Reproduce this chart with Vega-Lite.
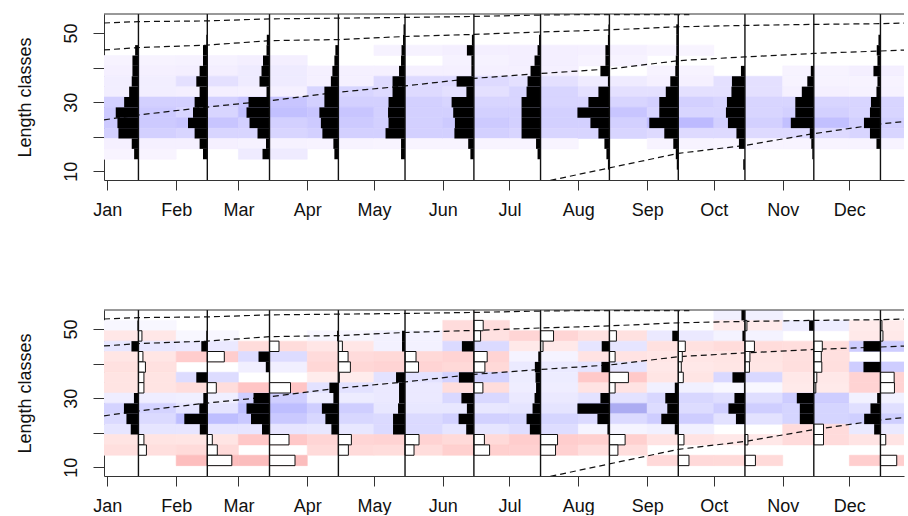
{
  "$schema": "https://vega.github.io/schema/vega-lite/v6.json",
  "padding": {"left": 16, "top": 13, "right": 0, "bottom": 0},
  "spacing": 130,
  "bounds": "flush",
  "resolve": {"scale": {"color": "independent", "stroke": "independent"}},
  "config": {
    "view": {"stroke": null},
    "font": "Liberation Sans",
    "axis": {"grid": false, "domainColor": "#333333", "tickColor": "#333333", "domainWidth": 1, "tickWidth": 1, "labelColor": "#111111", "labelFont": "Liberation Sans", "titleFont": "Liberation Sans", "titleFontWeight": "normal", "titleColor": "#111111"},
    "axisX": {"tickSize": 10, "labelFontSize": 18, "labelPadding": 25, "labelBaseline": "alphabetic", "labelAngle": 0},
    "axisY": {"tickSize": 11, "labelFontSize": 18, "labelAngle": 270, "labelAlign": "center", "labelBaseline": "alphabetic", "labelPadding": 17, "titleFontSize": 18, "titleAngle": 270, "titleBaseline": "alphabetic", "titleAlign": "center", "titleX": -74, "titleY": 83}
  },
  "datasets": {
    "months": [
      {"m":1,"start":-1.5,"end":31,"line":14},{"m":2,"start":31,"end":59,"line":45},{"m":3,"start":59,"end":90,"line":73},
      {"m":4,"start":90,"end":120,"line":104},{"m":5,"start":120,"end":151,"line":134},{"m":6,"start":151,"end":181,"line":165},
      {"m":7,"start":181,"end":212,"line":195},{"m":8,"start":212,"end":243,"line":226},{"m":9,"start":243,"end":273,"line":257},
      {"m":10,"start":273,"end":304,"line":287},{"m":11,"start":304,"end":334,"line":318},{"m":12,"start":334,"end":365,"line":348}
    ],
    "topHeat": [
      {"m":1,"L":42,"v":0.03},{"m":1,"L":39,"v":0.05},{"m":1,"L":36,"v":0.07},{"m":1,"L":33,"v":0.07},{"m":1,"L":30,"v":0.35},{"m":1,"L":27,"v":0.4},{"m":1,"L":24,"v":0.4},{"m":1,"L":21,"v":0.35},{"m":1,"L":18,"v":0.05},{"m":1,"L":15,"v":0.02},
      {"m":2,"L":42,"v":0.04},{"m":2,"L":39,"v":0.06},{"m":2,"L":36,"v":0.2},{"m":2,"L":33,"v":0.06},{"m":2,"L":30,"v":0.35},{"m":2,"L":27,"v":0.3},{"m":2,"L":24,"v":0.45},{"m":2,"L":21,"v":0.3},{"m":2,"L":18,"v":0.05},
      {"m":3,"L":42,"v":0.06},{"m":3,"L":39,"v":0.1},{"m":3,"L":36,"v":0.1},{"m":3,"L":33,"v":0.05},{"m":3,"L":30,"v":0.45},{"m":3,"L":27,"v":0.5},{"m":3,"L":24,"v":0.35},{"m":3,"L":21,"v":0.3},{"m":3,"L":18,"v":0.04},{"m":3,"L":15,"v":0.1},
      {"m":4,"L":39,"v":0.05},{"m":4,"L":36,"v":0.05},{"m":4,"L":33,"v":0.3},{"m":4,"L":30,"v":0.35},{"m":4,"L":27,"v":0.45},{"m":4,"L":24,"v":0.4},{"m":4,"L":21,"v":0.35},{"m":4,"L":18,"v":0.03},
      {"m":5,"L":45,"v":0.04},{"m":5,"L":39,"v":0.05},{"m":5,"L":36,"v":0.25},{"m":5,"L":33,"v":0.25},{"m":5,"L":30,"v":0.35},{"m":5,"L":27,"v":0.35},{"m":5,"L":24,"v":0.35},{"m":5,"L":21,"v":0.35},{"m":5,"L":18,"v":0.02},
      {"m":6,"L":45,"v":0.06},{"m":6,"L":42,"v":0.04},{"m":6,"L":39,"v":0.05},{"m":6,"L":36,"v":0.25},{"m":6,"L":33,"v":0.2},{"m":6,"L":30,"v":0.3},{"m":6,"L":27,"v":0.35},{"m":6,"L":24,"v":0.4},{"m":6,"L":21,"v":0.35},{"m":6,"L":18,"v":0.02},
      {"m":7,"L":45,"v":0.06},{"m":7,"L":42,"v":0.06},{"m":7,"L":39,"v":0.05},{"m":7,"L":36,"v":0.2},{"m":7,"L":33,"v":0.3},{"m":7,"L":30,"v":0.3},{"m":7,"L":27,"v":0.35},{"m":7,"L":24,"v":0.35},{"m":7,"L":21,"v":0.3},{"m":7,"L":18,"v":0.02},
      {"m":8,"L":45,"v":0.05},{"m":8,"L":42,"v":0.03},{"m":8,"L":36,"v":0.1},{"m":8,"L":33,"v":0.2},{"m":8,"L":30,"v":0.3},{"m":8,"L":27,"v":0.45},{"m":8,"L":24,"v":0.35},{"m":8,"L":21,"v":0.3},
      {"m":9,"L":45,"v":0.02},{"m":9,"L":39,"v":0.03},{"m":9,"L":36,"v":0.05},{"m":9,"L":33,"v":0.2},{"m":9,"L":30,"v":0.35},{"m":9,"L":27,"v":0.3},{"m":9,"L":24,"v":0.55},{"m":9,"L":21,"v":0.25},{"m":9,"L":18,"v":0.03},
      {"m":10,"L":36,"v":0.2},{"m":10,"L":33,"v":0.2},{"m":10,"L":30,"v":0.3},{"m":10,"L":27,"v":0.3},{"m":10,"L":24,"v":0.35},{"m":10,"L":21,"v":0.25},{"m":10,"L":18,"v":0.02},
      {"m":11,"L":39,"v":0.03},{"m":11,"L":36,"v":0.03},{"m":11,"L":33,"v":0.05},{"m":11,"L":30,"v":0.3},{"m":11,"L":27,"v":0.35},{"m":11,"L":24,"v":0.5},{"m":11,"L":21,"v":0.25},{"m":11,"L":18,"v":0.02},
      {"m":12,"L":39,"v":0.06},{"m":12,"L":36,"v":0.03},{"m":12,"L":33,"v":0.04},{"m":12,"L":30,"v":0.3},{"m":12,"L":27,"v":0.3},{"m":12,"L":24,"v":0.35},{"m":12,"L":21,"v":0.3},{"m":12,"L":18,"v":0.03}
    ],
    "topBars": [
      {"m":1,"L":45,"f":3.3},{"m":1,"L":42,"f":6},{"m":1,"L":39,"f":6},{"m":1,"L":36,"f":6.7},{"m":1,"L":33,"f":9.3},{"m":1,"L":30,"f":14.3},{"m":1,"L":27,"f":22.7},{"m":1,"L":24,"f":21},{"m":1,"L":21,"f":20},{"m":1,"L":18,"f":6.7},{"m":1,"L":15,"f":4.3},
      {"m":2,"L":48,"f":1},{"m":2,"L":45,"f":4.3},{"m":2,"L":42,"f":4.3},{"m":2,"L":39,"f":7.7},{"m":2,"L":36,"f":11},{"m":2,"L":33,"f":7.7},{"m":2,"L":30,"f":12.7},{"m":2,"L":27,"f":14.3},{"m":2,"L":24,"f":19.3},{"m":2,"L":21,"f":12.7},{"m":2,"L":18,"f":7.7},{"m":2,"L":15,"f":4.3},
      {"m":3,"L":48,"f":2.7},{"m":3,"L":45,"f":3},{"m":3,"L":42,"f":6.5},{"m":3,"L":39,"f":8},{"m":3,"L":36,"f":10},{"m":3,"L":33,"f":3},{"m":3,"L":30,"f":21},{"m":3,"L":27,"f":23},{"m":3,"L":24,"f":20},{"m":3,"L":21,"f":12},{"m":3,"L":18,"f":3.5},{"m":3,"L":15,"f":7},
      {"m":4,"L":45,"f":3},{"m":4,"L":42,"f":4},{"m":4,"L":39,"f":6},{"m":4,"L":36,"f":7.5},{"m":4,"L":33,"f":14},{"m":4,"L":30,"f":14},{"m":4,"L":27,"f":19},{"m":4,"L":24,"f":17.5},{"m":4,"L":21,"f":16},{"m":4,"L":18,"f":5},{"m":4,"L":15,"f":4},
      {"m":5,"L":51,"f":1.5},{"m":5,"L":48,"f":2},{"m":5,"L":45,"f":3.5},{"m":5,"L":42,"f":4},{"m":5,"L":39,"f":6},{"m":5,"L":36,"f":12.5},{"m":5,"L":33,"f":12.5},{"m":5,"L":30,"f":16.5},{"m":5,"L":27,"f":17},{"m":5,"L":24,"f":16.5},{"m":5,"L":21,"f":19.5},{"m":5,"L":18,"f":4},{"m":5,"L":15,"f":4},
      {"m":6,"L":48,"f":2},{"m":6,"L":45,"f":7},{"m":6,"L":42,"f":2.5},{"m":6,"L":39,"f":2.5},{"m":6,"L":36,"f":17.3},{"m":6,"L":33,"f":7.5},{"m":6,"L":30,"f":22.3},{"m":6,"L":27,"f":20.7},{"m":6,"L":24,"f":19},{"m":6,"L":21,"f":19.5},{"m":6,"L":18,"f":5.7},{"m":6,"L":15,"f":3.5},
      {"m":7,"L":48,"f":1.5},{"m":7,"L":45,"f":3},{"m":7,"L":42,"f":6},{"m":7,"L":39,"f":10},{"m":7,"L":36,"f":13},{"m":7,"L":33,"f":14},{"m":7,"L":30,"f":19},{"m":7,"L":27,"f":19},{"m":7,"L":24,"f":19},{"m":7,"L":21,"f":19},{"m":7,"L":18,"f":4.5},{"m":7,"L":15,"f":3},
      {"m":8,"L":51,"f":1},{"m":8,"L":48,"f":1.5},{"m":8,"L":45,"f":4},{"m":8,"L":42,"f":4},{"m":8,"L":39,"f":9},{"m":8,"L":36,"f":1.5},{"m":8,"L":33,"f":11},{"m":8,"L":30,"f":21},{"m":8,"L":27,"f":32},{"m":8,"L":24,"f":19},{"m":8,"L":21,"f":11},{"m":8,"L":18,"f":5},{"m":8,"L":15,"f":3},{"m":8,"L":12,"f":1.5},
      {"m":9,"L":51,"f":2},{"m":9,"L":48,"f":2},{"m":9,"L":45,"f":2},{"m":9,"L":42,"f":2.5},{"m":9,"L":39,"f":3},{"m":9,"L":36,"f":8},{"m":9,"L":33,"f":12.5},{"m":9,"L":30,"f":19},{"m":9,"L":27,"f":19},{"m":9,"L":24,"f":29},{"m":9,"L":21,"f":14},{"m":9,"L":18,"f":5},{"m":9,"L":15,"f":2.5},{"m":9,"L":12,"f":1.5},
      {"m":10,"L":39,"f":4},{"m":10,"L":36,"f":13},{"m":10,"L":33,"f":13.5},{"m":10,"L":30,"f":18},{"m":10,"L":27,"f":19},{"m":10,"L":24,"f":17},{"m":10,"L":21,"f":8.5},{"m":10,"L":18,"f":6},{"m":10,"L":12,"f":1.7},
      {"m":11,"L":39,"f":3},{"m":11,"L":36,"f":6.5},{"m":11,"L":33,"f":12},{"m":11,"L":30,"f":18.5},{"m":11,"L":27,"f":18.5},{"m":11,"L":24,"f":23},{"m":11,"L":21,"f":4},{"m":11,"L":18,"f":2.5},{"m":11,"L":15,"f":1.5},
      {"m":12,"L":48,"f":2},{"m":12,"L":45,"f":3.7},{"m":12,"L":42,"f":3},{"m":12,"L":39,"f":7},{"m":12,"L":36,"f":3},{"m":12,"L":33,"f":4},{"m":12,"L":30,"f":9.5},{"m":12,"L":27,"f":10.5},{"m":12,"L":24,"f":16.5},{"m":12,"L":21,"f":10.5},{"m":12,"L":18,"f":4}
    ],
    "resid": [
      {"m":1,"L":51,"r":1},{"m":1,"L":48,"r":-3.5},{"m":1,"L":45,"r":7},{"m":1,"L":42,"r":-4.5},{"m":1,"L":39,"r":-7},{"m":1,"L":36,"r":-5.5},{"m":1,"L":33,"r":-5.5},{"m":1,"L":30,"r":4.5},{"m":1,"L":27,"r":14.5},{"m":1,"L":24,"r":12},{"m":1,"L":21,"r":7.7},{"m":1,"L":18,"r":-5.5},{"m":1,"L":15,"r":-8},
      {"m":2,"L":48,"r":1},{"m":2,"L":45,"r":6},{"m":2,"L":42,"r":-17},{"m":2,"L":36,"r":11},{"m":2,"L":33,"r":-9},{"m":2,"L":30,"r":4},{"m":2,"L":27,"r":8},{"m":2,"L":24,"r":23},{"m":2,"L":21,"r":7.5},{"m":2,"L":18,"r":-5},{"m":2,"L":15,"r":-10},{"m":2,"L":12,"r":-24.5},
      {"m":3,"L":45,"r":-9.5},{"m":3,"L":42,"r":11},{"m":3,"L":39,"r":3.7},{"m":3,"L":33,"r":-21},{"m":3,"L":30,"r":16},{"m":3,"L":27,"r":23},{"m":3,"L":24,"r":18.5},{"m":3,"L":21,"r":7.5},{"m":3,"L":18,"r":-19.5},{"m":3,"L":12,"r":-25.5},
      {"m":4,"L":48,"r":1.3},{"m":4,"L":45,"r":-4},{"m":4,"L":42,"r":-9.7},{"m":4,"L":39,"r":-12},{"m":4,"L":36,"r":-1},{"m":4,"L":33,"r":9},{"m":4,"L":30,"r":5},{"m":4,"L":27,"r":16.5},{"m":4,"L":24,"r":13},{"m":4,"L":21,"r":7},{"m":4,"L":18,"r":-13},{"m":4,"L":15,"r":-10},
      {"m":5,"L":48,"r":3},{"m":5,"L":45,"r":3},{"m":5,"L":42,"r":-11},{"m":5,"L":39,"r":-13.5},{"m":5,"L":36,"r":9},{"m":5,"L":33,"r":6},{"m":5,"L":30,"r":6},{"m":5,"L":27,"r":7},{"m":5,"L":24,"r":12},{"m":5,"L":21,"r":12},{"m":5,"L":18,"r":-14},{"m":5,"L":15,"r":-9},
      {"m":6,"L":51,"r":-9.3},{"m":6,"L":48,"r":-6.7},{"m":6,"L":45,"r":12},{"m":6,"L":42,"r":-13.3},{"m":6,"L":39,"r":-11},{"m":6,"L":36,"r":15},{"m":6,"L":33,"r":-9},{"m":6,"L":30,"r":12.5},{"m":6,"L":27,"r":7},{"m":6,"L":24,"r":15.3},{"m":6,"L":21,"r":7.7},{"m":6,"L":18,"r":-10.5},{"m":6,"L":15,"r":-15.7},
      {"m":7,"L":48,"r":-13},{"m":7,"L":45,"r":-2.5},{"m":7,"L":42,"r":2.3},{"m":7,"L":39,"r":5.7},{"m":7,"L":36,"r":5},{"m":7,"L":33,"r":4.5},{"m":7,"L":30,"r":6},{"m":7,"L":27,"r":8},{"m":7,"L":24,"r":14},{"m":7,"L":21,"r":10.7},{"m":7,"L":18,"r":-17},{"m":7,"L":15,"r":-15},
      {"m":8,"L":48,"r":-7},{"m":8,"L":45,"r":7.7},{"m":8,"L":42,"r":-5.7},{"m":8,"L":39,"r":8},{"m":8,"L":36,"r":-19},{"m":8,"L":33,"r":-5.7},{"m":8,"L":30,"r":9},{"m":8,"L":27,"r":32},{"m":8,"L":24,"r":12},{"m":8,"L":21,"r":2},{"m":8,"L":18,"r":-15.7},{"m":8,"L":15,"r":-8.5},
      {"m":9,"L":48,"r":6},{"m":9,"L":45,"r":-7},{"m":9,"L":42,"r":-4},{"m":9,"L":39,"r":-3},{"m":9,"L":36,"r":-5},{"m":9,"L":33,"r":3.5},{"m":9,"L":30,"r":13},{"m":9,"L":27,"r":11},{"m":9,"L":24,"r":17},{"m":9,"L":21,"r":3.5},{"m":9,"L":18,"r":-5.7},{"m":9,"L":12,"r":-10.7},
      {"m":10,"L":54,"r":3.5},{"m":10,"L":51,"r":-2},{"m":10,"L":48,"r":2.5},{"m":10,"L":45,"r":-9.5},{"m":10,"L":42,"r":-5},{"m":10,"L":39,"r":-4.5},{"m":10,"L":36,"r":12.5},{"m":10,"L":33,"r":1},{"m":10,"L":30,"r":10.5},{"m":10,"L":27,"r":16.5},{"m":10,"L":24,"r":9},{"m":10,"L":18,"r":-3},{"m":10,"L":12,"r":-10.5},
      {"m":11,"L":51,"r":4.7},{"m":11,"L":45,"r":-8.5},{"m":11,"L":42,"r":-7.5},{"m":11,"L":39,"r":-8},{"m":11,"L":36,"r":-3},{"m":11,"L":33,"r":-2},{"m":11,"L":30,"r":17},{"m":11,"L":27,"r":14},{"m":11,"L":24,"r":14},{"m":11,"L":21,"r":-9.7},{"m":11,"L":18,"r":-9.7},
      {"m":12,"L":51,"r":-1.5},{"m":12,"L":48,"r":-2.5},{"m":12,"L":45,"r":17},{"m":12,"L":39,"r":17},{"m":12,"L":36,"r":-13.7},{"m":12,"L":33,"r":-14},{"m":12,"L":30,"r":3.3},{"m":12,"L":27,"r":10},{"m":12,"L":24,"r":16.3},{"m":12,"L":21,"r":6.3},{"m":12,"L":18,"r":-5.3},{"m":12,"L":12,"r":-16.3}
    ],
    "curves": [
      {"c":"A","d":-1.5,"L":24.9},{"c":"A","d":14,"L":26.3},{"c":"A","d":45,"L":28.6},{"c":"A","d":73,"L":30.4},{"c":"A","d":104,"L":32.9},{"c":"A","d":134,"L":34.7},{"c":"A","d":165,"L":36.9},{"c":"A","d":195,"L":38.3},{"c":"A","d":226,"L":39.6},{"c":"A","d":257,"L":42.0},{"c":"A","d":287,"L":43.1},{"c":"A","d":318,"L":44.1},{"c":"A","d":348,"L":44.8},{"c":"A","d":360,"L":45.1},
      {"c":"B","d":-1.5,"L":45.1},{"c":"B","d":14,"L":45.8},{"c":"B","d":45,"L":46.5},{"c":"B","d":73,"L":47.8},{"c":"B","d":104,"L":48.1},{"c":"B","d":134,"L":49.0},{"c":"B","d":165,"L":49.6},{"c":"B","d":195,"L":50.3},{"c":"B","d":226,"L":50.9},{"c":"B","d":257,"L":51.8},{"c":"B","d":287,"L":52.2},{"c":"B","d":318,"L":52.5},{"c":"B","d":348,"L":52.7},{"c":"B","d":360,"L":52.9},
      {"c":"C","d":-1.5,"L":52.9},{"c":"C","d":14,"L":53.3},{"c":"C","d":45,"L":53.5},{"c":"C","d":73,"L":54.1},{"c":"C","d":104,"L":54.3},{"c":"C","d":134,"L":54.5},{"c":"C","d":165,"L":54.8},{"c":"C","d":195,"L":55.2},{"c":"C","d":212,"L":55.3},{"c":"C","d":226,"L":55.3},{"c":"C","d":257,"L":55.3},{"c":"C","d":262,"L":55.3},
      {"c":"D","d":195,"L":6.8},{"c":"D","d":226,"L":11.0},{"c":"D","d":257,"L":15.2},{"c":"D","d":287,"L":17.5},{"c":"D","d":318,"L":20.9},{"c":"D","d":348,"L":23.7},{"c":"D","d":360,"L":24.5}
    ]
  },
  "vconcat": [
    {
      "width": 800,
      "height": 166,
      "layer": [
        {
          "data": {"name": "topHeat"},
          "transform": [
            {"lookup": "m", "from": {"data": {"name": "months"}, "key": "m", "fields": ["start", "end"]}},
            {"calculate": "datum.L - 1.5", "as": "lo"},
            {"calculate": "datum.L + 1.5", "as": "hi"}
          ],
          "mark": {"type": "rect", "clip": true, "strokeWidth": 0.6},
          "encoding": {
            "x": {"field": "start", "type": "quantitative", "title": null, "scale": {"domain": [-1.5, 358.6], "nice": false, "zero": false},
                  "axis": {"values": [0,31,59,90,120,151,181,212,243,273,304,334], "title": null,
                           "labelExpr": "['Jan','Feb','Mar','Apr','May','Jun','Jul','Aug','Sep','Oct','Nov','Dec'][indexof([0,31,59,90,120,151,181,212,243,273,304,334], datum.value)]"}},
            "x2": {"field": "end"},
            "y": {"field": "lo", "type": "quantitative", "title": "Length classes", "scale": {"domain": [7.5, 55.5], "nice": false, "zero": false},
                  "axis": {"values": [10,20,30,40,50], "title": "Length classes", "labelExpr": "datum.value % 20 == 10 ? datum.label : ''"}},
            "y2": {"field": "hi"},
            "color": {"field": "v", "type": "quantitative", "scale": {"domain": [0, 1], "range": ["#ffffff", "#8c8ceb"]}, "legend": null},
            "stroke": {"field": "v", "type": "quantitative", "scale": {"domain": [0, 1], "range": ["#ffffff", "#8c8ceb"]}, "legend": null}
          }
        },
        {
          "data": {"name": "curves"},
          "mark": {"type": "line", "clip": true, "color": "#111111", "strokeWidth": 1.2, "strokeDash": [6, 4]},
          "encoding": {
            "x": {"field": "d", "type": "quantitative", "title": null},
            "y": {"field": "L", "type": "quantitative", "title": "Length classes"},
            "detail": {"field": "c"},
            "order": {"field": "d"}
          }
        },
        {
          "data": {"name": "topBars"},
          "transform": [
            {"lookup": "m", "from": {"data": {"name": "months"}, "key": "m", "fields": ["line"]}},
            {"calculate": "datum.line - datum.f * 0.45", "as": "xe"},
            {"calculate": "datum.L - 1.5", "as": "lo"},
            {"calculate": "datum.L + 1.5", "as": "hi"}
          ],
          "mark": {"type": "rect", "color": "#000000"},
          "encoding": {
            "x": {"field": "line", "type": "quantitative", "title": null},
            "x2": {"field": "xe"},
            "y": {"field": "lo", "type": "quantitative", "title": "Length classes"},
            "y2": {"field": "hi"}
          }
        },
        {
          "data": {"name": "months"},
          "mark": {"type": "rule", "color": "#111111", "strokeWidth": 1.4},
          "encoding": {"x": {"field": "line", "type": "quantitative", "title": null}}
        },
        {
          "data": {"values": [{}]},
          "mark": {"type": "rule", "color": "#333333", "strokeWidth": 1},
          "encoding": {"y": {"datum": 55.5, "type": "quantitative", "title": "Length classes"}}
        }
      ]
    },
    {
      "width": 800,
      "height": 166,
      "layer": [
        {
          "data": {"name": "resid"},
          "transform": [
            {"lookup": "m", "from": {"data": {"name": "months"}, "key": "m", "fields": ["start", "end"]}},
            {"calculate": "datum.L - 1.5", "as": "lo"},
            {"calculate": "datum.L + 1.5", "as": "hi"}
          ],
          "mark": {"type": "rect", "clip": true, "strokeWidth": 0.6},
          "encoding": {
            "x": {"field": "start", "type": "quantitative", "title": null, "scale": {"domain": [-1.5, 358.6], "nice": false, "zero": false},
                  "axis": {"values": [0,31,59,90,120,151,181,212,243,273,304,334], "title": null,
                           "labelExpr": "['Jan','Feb','Mar','Apr','May','Jun','Jul','Aug','Sep','Oct','Nov','Dec'][indexof([0,31,59,90,120,151,181,212,243,273,304,334], datum.value)]"}},
            "x2": {"field": "end"},
            "y": {"field": "lo", "type": "quantitative", "title": "Length classes", "scale": {"domain": [7.5, 55.5], "nice": false, "zero": false},
                  "axis": {"values": [10,20,30,40,50], "title": "Length classes", "labelExpr": "datum.value % 20 == 10 ? datum.label : ''"}},
            "y2": {"field": "hi"},
            "color": {"field": "r", "type": "quantitative", "scale": {"domain": [-30, 0, 30], "range": ["#f2b4b4", "#ffffff", "#acacf2"], "clamp": true}, "legend": null},
            "stroke": {"field": "r", "type": "quantitative", "scale": {"domain": [-30, 0, 30], "range": ["#f2b4b4", "#ffffff", "#acacf2"], "clamp": true}, "legend": null}
          }
        },
        {
          "data": {"name": "curves"},
          "mark": {"type": "line", "clip": true, "color": "#111111", "strokeWidth": 1.2, "strokeDash": [6, 4]},
          "encoding": {
            "x": {"field": "d", "type": "quantitative", "title": null},
            "y": {"field": "L", "type": "quantitative", "title": "Length classes"},
            "detail": {"field": "c"},
            "order": {"field": "d"}
          }
        },
        {
          "data": {"name": "resid"},
          "transform": [
            {"filter": "datum.r > 0"},
            {"lookup": "m", "from": {"data": {"name": "months"}, "key": "m", "fields": ["line"]}},
            {"calculate": "datum.line - datum.r * 0.45", "as": "xe"},
            {"calculate": "datum.L - 1.5", "as": "lo"},
            {"calculate": "datum.L + 1.5", "as": "hi"}
          ],
          "mark": {"type": "rect", "color": "#000000"},
          "encoding": {
            "x": {"field": "line", "type": "quantitative", "title": null},
            "x2": {"field": "xe"},
            "y": {"field": "lo", "type": "quantitative", "title": "Length classes"},
            "y2": {"field": "hi"}
          }
        },
        {
          "data": {"name": "resid"},
          "transform": [
            {"filter": "datum.r < 0"},
            {"lookup": "m", "from": {"data": {"name": "months"}, "key": "m", "fields": ["line"]}},
            {"calculate": "datum.line - datum.r * 0.45", "as": "xe"},
            {"calculate": "datum.L - 1.5", "as": "lo"},
            {"calculate": "datum.L + 1.5", "as": "hi"}
          ],
          "mark": {"type": "rect", "fill": "#ffffff", "stroke": "#111111", "strokeWidth": 1},
          "encoding": {
            "x": {"field": "line", "type": "quantitative", "title": null},
            "x2": {"field": "xe"},
            "y": {"field": "lo", "type": "quantitative", "title": "Length classes"},
            "y2": {"field": "hi"}
          }
        },
        {
          "data": {"name": "months"},
          "mark": {"type": "rule", "color": "#111111", "strokeWidth": 1.4},
          "encoding": {"x": {"field": "line", "type": "quantitative", "title": null}}
        },
        {
          "data": {"values": [{}]},
          "mark": {"type": "rule", "color": "#333333", "strokeWidth": 1},
          "encoding": {"y": {"datum": 55.5, "type": "quantitative", "title": "Length classes"}}
        }
      ]
    }
  ]
}
